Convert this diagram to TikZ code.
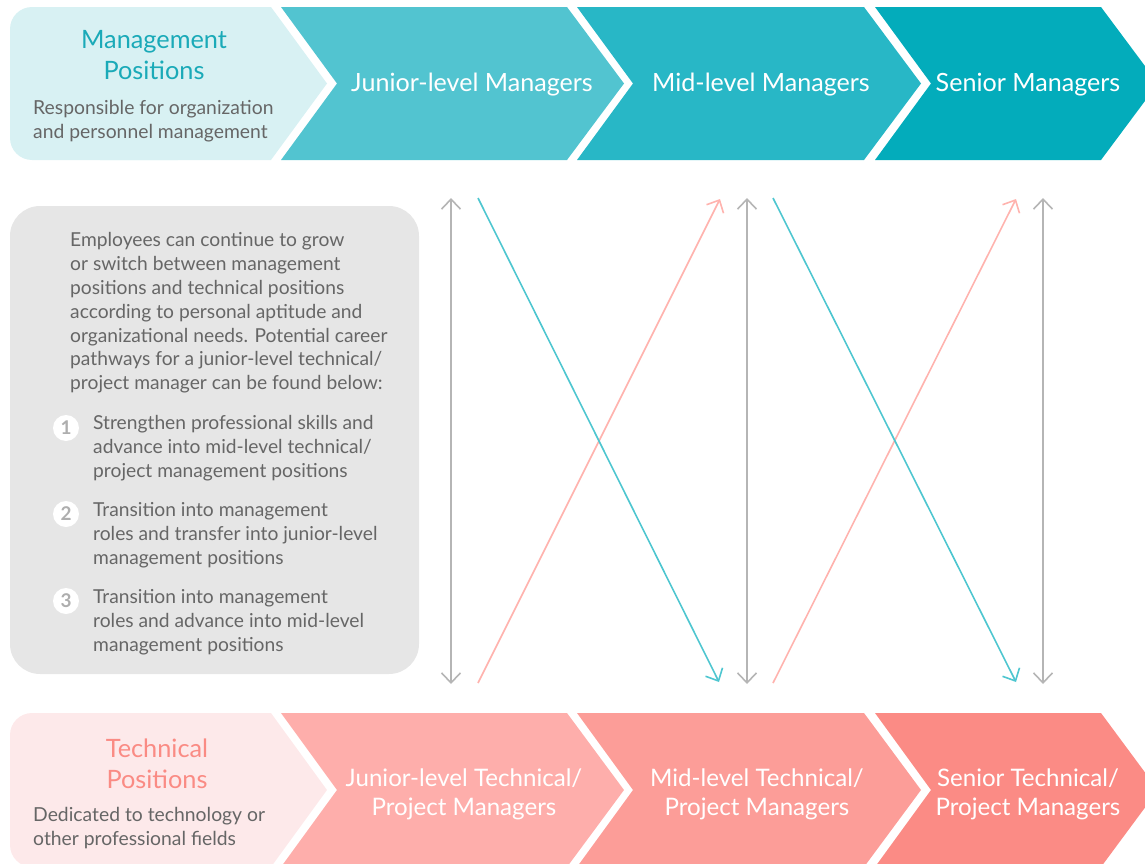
\documentclass[tikz,border=0pt]{standalone}
\usepackage{fontspec}
\setmainfont{Lato}
\usetikzlibrary{arrows.meta}
\definecolor{mbox}{HTML}{D8F1F3}
\definecolor{mc2}{HTML}{52C4D0}
\definecolor{mc3}{HTML}{28B7C6}
\definecolor{mc4}{HTML}{03ACBB}
\definecolor{tbox}{HTML}{FDE9EA}
\definecolor{tc2}{HTML}{FEAEAB}
\definecolor{tc3}{HTML}{FC9D98}
\definecolor{tc4}{HTML}{FB8B85}
\definecolor{mteal}{HTML}{1AAAB8}
\definecolor{tpink}{HTML}{FA8B84}
\definecolor{txtgray}{HTML}{666666}
\definecolor{boxgray}{HTML}{E6E6E6}
\definecolor{numgray}{HTML}{AEAEAE}
\definecolor{arrgray}{HTML}{B5B5B5}
\definecolor{arrcyan}{HTML}{4EC6D0}
\definecolor{arrpink}{HTML}{FFB3AE}
\tikzset{
  chevtext/.style={text=white, align=center, font=\fontsize{25.2}{29}\selectfont, inner sep=0},
  chevtexttwo/.style={text=white, align=center, font=\fontsize{24.2}{29}\selectfont, inner sep=0},
  titletext/.style={align=center, font=\fontsize{25.4}{31}\selectfont, inner sep=0},
  desctext/.style={text=txtgray, align=left, font=\fontsize{19.4}{24}\selectfont, inner sep=0, anchor=north west},
  bodytext/.style={text=txtgray, align=left, font=\fontsize{19.3}{24}\selectfont, inner sep=0, anchor=north west},
  numc/.style={circle, fill=white, minimum size=26bp, inner sep=0, text=numgray, font=\bfseries\fontsize{19}{19}\selectfont},
  conn/.style={line width=1.6bp, -{Straight Barb[length=10bp,width=19bp,line width=1.6bp]}},
  dconn/.style={line width=1.6bp, {Straight Barb[length=10bp,width=19bp,line width=1.6bp]}-{Straight Barb[length=10bp,width=19bp,line width=1.6bp]}}
}
\begin{document}
\begin{tikzpicture}[x=1bp,y=-1bp]
\useasboundingbox (0,0) rectangle (1145,864);
% ---------- top row ----------
\fill[mbox, rounded corners=22bp] (10,7) rectangle (200,160);
\fill[mbox] (100,7) -- (271,7) -- (327,83.5) -- (271,160) -- (100,160) -- cycle;
\fill[mc2] (281,7) -- (567,7) -- (624,83.5) -- (567,160) -- (281,160) -- (337,83.5) -- cycle;
\fill[mc3] (577,7) -- (864,7) -- (921,83.5) -- (864,160) -- (577,160) -- (633,83.5) -- cycle;
\fill[mc4] (875,7) -- (1101,7) -- (1158,83.5) -- (1101,160) -- (875,160) -- (931,83.5) -- cycle;
\node[titletext, text=mteal] (mtitle) at (154,55) {Management\\Positions};
\node[desctext] (mdesc) at (33,100) {Responsible for organization\\and personnel management};
\node[chevtext] (mj) at (472,85) {Junior-level Managers};
\node[chevtext] (mm) at (761,85) {Mid-level Managers};
\node[chevtext] (ms) at (1028,85) {Senior Managers};
% ---------- bottom row ----------
\fill[tbox, rounded corners=22bp] (10,713) rectangle (200,867);
\fill[tbox] (100,713) -- (271,713) -- (327,790) -- (271,867) -- (100,867) -- cycle;
\fill[tc2] (281,713) -- (567,713) -- (624,790) -- (567,867) -- (281,867) -- (337,790) -- cycle;
\fill[tc3] (577,713) -- (864,713) -- (921,790) -- (864,867) -- (577,867) -- (633,790) -- cycle;
\fill[tc4] (875,713) -- (1101,713) -- (1158,790) -- (1101,867) -- (875,867) -- (931,790) -- cycle;
\node[titletext, text=tpink] (ttitle) at (157,764) {Technical\\Positions};
\node[desctext] (tdesc) at (33,807) {Dedicated to technology or\\other professional fields};
\node[chevtexttwo] (tj) at (464,794) {Junior-level Technical/\\Project Managers};
\node[chevtexttwo] (tm) at (757,794) {Mid-level Technical/\\Project Managers};
\node[chevtexttwo] (ts) at (1028,794) {Senior Technical/\\Project Managers};
% ---------- gray box ----------
\fill[boxgray, rounded corners=30bp] (10,206) rectangle (419,674);
\node[bodytext] (intro) at (70,232) {Employees can continue to grow\\or switch between management\\positions and technical positions\\according to personal aptitude and\\organizational needs. Potential career\\pathways for a junior-level technical/\\project manager can be found below:};
\node[numc] (n1) at (66,428) {1};
\node[bodytext] (p1) at (93,415) {Strengthen professional skills and\\advance into mid-level technical/\\project management positions};
\node[numc] (n2) at (66,514) {2};
\node[bodytext] (p2) at (93,502) {Transition into management\\roles and transfer into junior-level\\management positions};
\node[numc] (n3) at (66,601) {3};
\node[bodytext] (p3) at (93,589) {Transition into management\\roles and advance into mid-level\\management positions};
% ---------- connectors ----------
\coordinate (g1t) at (451,198); \coordinate (g1b) at (451,684);
\coordinate (g2t) at (747,198); \coordinate (g2b) at (747,684);
\coordinate (g3t) at (1043,198); \coordinate (g3b) at (1043,684);
\coordinate (c1s) at (478,198); \coordinate (c1e) at (719,682);
\coordinate (c2s) at (773,198); \coordinate (c2e) at (1016,682);
\coordinate (p1s) at (478,683); \coordinate (p1e) at (720,199);
\coordinate (p2s) at (773,683); \coordinate (p2e) at (1016,199);
\draw[dconn, arrgray] (g1t) -- (g1b);
\draw[dconn, arrgray] (g2t) -- (g2b);
\draw[dconn, arrgray] (g3t) -- (g3b);
\draw[conn, arrpink] (p1s) -- (p1e);
\draw[conn, arrpink] (p2s) -- (p2e);
\draw[conn, arrcyan] (c1s) -- (c1e);
\draw[conn, arrcyan] (c2s) -- (c2e);
\end{tikzpicture}
\end{document}
